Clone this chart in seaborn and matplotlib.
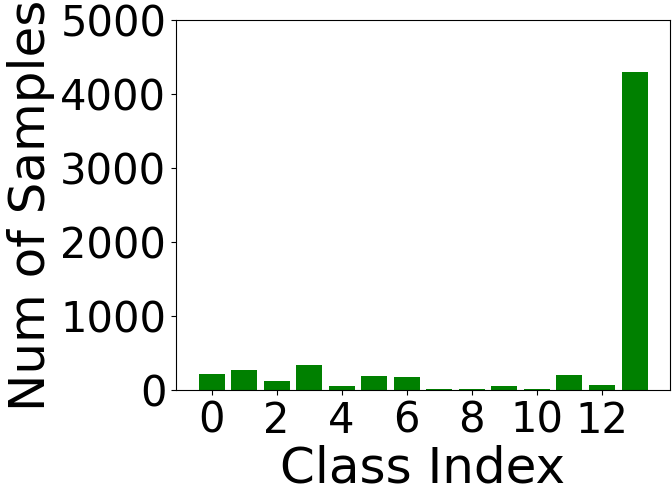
import matplotlib
matplotlib.use("Agg")
import matplotlib.pyplot as plt
import pandas as pd
import seaborn as sns

class_index = list(range(14))
num_samples = [218, 272, 124, 340, 56, 191, 178, 20, 20, 56, 20, 205, 70, 4300]

df = pd.DataFrame({"Class Index": class_index, "Num of Samples": num_samples})

sns.set_style("white", rc={"text.color": "black", "axes.labelcolor": "black",
                           "xtick.color": "black", "ytick.color": "black",
                           "axes.edgecolor": "black"})
plt.rcParams["font.family"] = ["DejaVu Sans"]

fig = plt.figure(figsize=(6.72, 4.96), dpi=100)
ax = fig.add_axes([0.262, 0.2137, 0.735, 0.746])
sns.barplot(data=df, x="Class Index", y="Num of Samples", color="green",
            saturation=1, width=0.8, linewidth=0, ax=ax)

ax.set_xlim(-1.09, 14.09)
ax.set_ylim(0, 5000)
ax.set_xticks(range(0, 14, 2))
ax.set_xticklabels([str(i) for i in range(0, 14, 2)])
ax.set_yticks([0, 1000, 2000, 3000, 4000, 5000])
ax.tick_params(axis="both", labelsize=30, length=3.5, width=0.8, direction="out",
               bottom=True, left=True, colors="black")
ax.set_xlabel("Class Index", fontsize=36, labelpad=2)
ax.set_ylabel("Num of Samples", fontsize=36, labelpad=4)
for s in ax.spines.values():
    s.set_color("black")
    s.set_linewidth(0.8)

fig.savefig("out.png", dpi=100)
